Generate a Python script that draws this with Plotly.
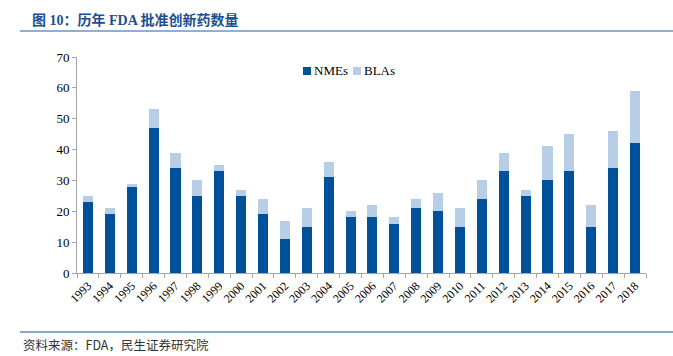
import plotly.graph_objects as go

years = [str(y) for y in range(1993, 2019)]
nmes = [23, 19, 28, 47, 34, 25, 33, 25, 19, 11, 15, 31, 18, 18, 16, 21, 20, 15, 24, 33, 25, 30, 33, 15, 34, 42]
blas = [2, 2, 1, 6, 5, 5, 2, 2, 5, 6, 6, 5, 2, 4, 2, 3, 6, 6, 6, 6, 2, 11, 12, 7, 12, 17]
series_names = ["NMEs", "BLAs"]
series_colors = ["#00509a", "#b8cde6"]

W, H = 673, 356
L, R, T, B = 77, 27, 57, 83
pw = W - L - R
ph = H - T - B


def px(x):
    return (x - L) / pw


def py(y):
    return (H - B - y) / ph


serif = "Liberation Serif, Noto Sans CJK SC, serif"

fig = go.Figure()
for name, vals, col in zip(series_names, [nmes, blas], series_colors):
    fig.add_trace(go.Bar(x=years, y=vals, name=name, marker=dict(color=col, line=dict(width=0)),
                         showlegend=False))

legend_shapes = []
legend_ann = []
leg_x = [303, 353]
for lx, name, col in zip(leg_x, series_names, series_colors):
    legend_shapes.append(dict(type="rect", xref="paper", yref="paper",
                              x0=px(lx), x1=px(lx + 8), y0=py(75), y1=py(67),
                              fillcolor=col, line=dict(width=0)))
    legend_ann.append(dict(text=name, xref="paper", yref="paper", x=px(lx + 9), y=py(71),
                           xanchor="left", yanchor="middle", showarrow=False,
                           font=dict(family=serif, size=13, color="#000000")))

fig.update_layout(
    width=W, height=H,
    margin=dict(l=L, r=R, t=T, b=B, autoexpand=False),
    paper_bgcolor="white", plot_bgcolor="white",
    barmode="stack", bargap=0.54,
    font=dict(family=serif, size=13, color="#000000"),
    showlegend=False,
    xaxis=dict(type="category", tickangle=-45, showline=True, linecolor="#a6a6a6", linewidth=1,
               ticks="outside", tickson="boundaries", ticklen=4, tickcolor="#a6a6a6",
               tickfont=dict(family=serif, size=12, color="#000000"), showgrid=False, fixedrange=True),
    yaxis=dict(range=[0, 70], dtick=10, showline=True, linecolor="#a6a6a6", linewidth=1,
               ticks="outside", ticklen=4, tickcolor="#a6a6a6", showgrid=False, zeroline=False,
               tickfont=dict(family=serif, size=13, color="#000000"), fixedrange=True),
    shapes=[
        dict(type="line", xref="paper", yref="paper", x0=px(20), x1=px(673), y0=py(31), y1=py(31),
             line=dict(color="#8fb0d2", width=2)),
        dict(type="line", xref="paper", yref="paper", x0=px(20), x1=px(673), y0=py(332), y1=py(332),
             line=dict(color="#5b8fc7", width=1.5)),
    ] + legend_shapes,
    annotations=[
        dict(text="<b>图 10：历年 FDA 批准创新药数量</b>", xref="paper", yref="paper",
             x=px(30), y=py(20), xanchor="left", yanchor="middle", showarrow=False,
             font=dict(family=serif, size=14, color="#1c4f8f")),
        dict(text="资料来源：FDA，民生证券研究院", xref="paper", yref="paper",
             x=px(21), y=py(344), xanchor="left", yanchor="middle", showarrow=False,
             font=dict(family="Noto Sans CJK SC, Liberation Serif, serif", size=12.5, color="#333333")),
    ] + legend_ann,
)

fig.write_html("out.html", config={"displayModeBar": False},
               post_script="document.body.style.margin='0';document.body.style.padding='0';")
